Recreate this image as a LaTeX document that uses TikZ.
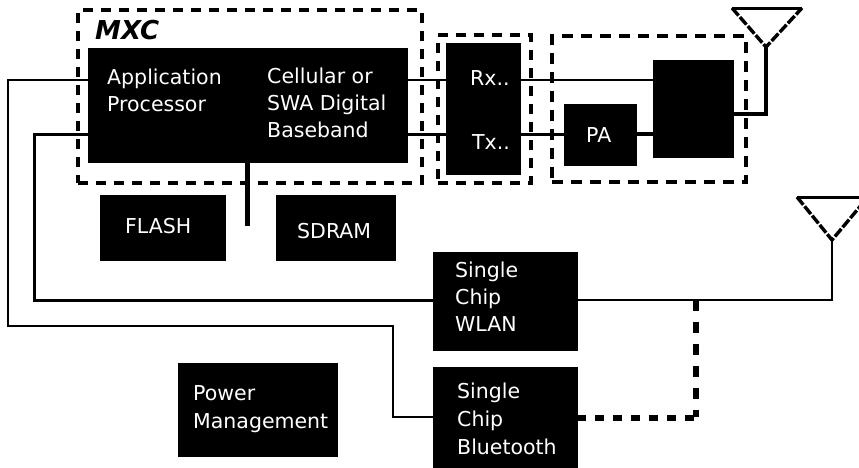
\documentclass[tikz,border=0pt]{standalone}
\usepackage{fontspec}
\setmainfont{DejaVu Sans}
\begin{document}
\begin{tikzpicture}[x=1pt,y=-1pt,
  blk/.style={fill=black,draw=black,inner sep=0pt,line width=0.5pt},
  lbl/.style={text=white,inner sep=0pt,align=left,anchor=north west,font=\fontsize{20.5}{27}\selectfont},
  dbox/.style={draw=black,fill=none,inner sep=0pt,line width=4.4pt,dash pattern=on 10pt off 8pt},
  dboxb/.style={draw=black,fill=none,inner sep=0pt,line width=3.6pt,dash pattern=on 11pt off 8pt},
  thin line/.style={draw=black,line width=2.2pt},
  thick line/.style={draw=black,line width=3pt},
  ant/.style={draw=black,line width=3.4pt,dash pattern=on 10pt off 2pt},
  dline/.style={draw=black,line width=5.5pt,dash pattern=on 11pt off 11pt},
  dotline/.style={draw=black,line width=6pt,dash pattern=on 9pt off 9pt}]
\useasboundingbox (0,0) rectangle (859,467);
\fill[white] (0,0) rectangle (859,467);
% helper levels
\coordinate (rx) at (0,80);
\coordinate (tx) at (0,134);
\coordinate (leftA) at (8,0);
\coordinate (leftB) at (34,0);
\coordinate (busA) at (0,326);
\coordinate (stubEnd) at (247,226);
\coordinate (jog) at (393,0);
\coordinate (a1apex) at (766,47);
\coordinate (a1l) at (732,8);
\coordinate (a1r) at (802,8);
\coordinate (a2apex) at (832,240);
\coordinate (a2l) at (797,197);
\coordinate (a2r) at (868,197);
\coordinate (wjoin) at (696,300);
\coordinate (wcorner) at (696,417);
% dashed groups
\node[dbox,minimum width=344pt,minimum height=173pt,anchor=north west] (mxc) at (76,8) {};
\node[dbox,minimum width=93pt,minimum height=148pt,anchor=north west] (trx) at (436,33) {};
\node[dboxb,minimum width=194pt,minimum height=146pt,anchor=north west] (rf) at (550,34) {};
% connectors
\draw[thin line] (88,80) -- (leftA |- rx) -- (leftA |- busA) -- (jog |- busA) -- (jog |- 0,417) -- (433,417);
\draw[thick line] (88,134) -- (leftB |- tx) -- (leftB |- 0,300) -- (433,300);
\draw[draw=black,line width=5pt] (247,162) -- (stubEnd);
\draw[thin line] (407,80) -- (446,80);
\draw[thick line] (407,134) -- (446,134);
\draw[thin line] (520,80) -- (653,80);
\draw[thick line] (520,134) -- (564,134);
\draw[thick line,line width=4pt] (636,134) -- (653,134);
\draw[thick line,line width=4.4pt] (733,114) -- (a1apex |- 0,114) -- (a1apex);
\draw[thin line] (577,300) -- (a2apex |- 0,300) -- (a2apex);
\draw[dline] (wjoin) -- (wcorner);
\draw[dotline] (577,418) -- (700,418);
% antennas
\draw[black,line width=3pt] (a1l) -- (a1r);
\draw[ant] (a1l) -- (a1apex) -- (a1r);
\draw[black,line width=3pt] (a2l) -- (a2r);
\draw[ant] (a2l) -- (a2apex) -- (a2r);
% blocks
\node[blk,minimum width=319pt,minimum height=114pt,anchor=north west] (main) at (88,48) {};
\node[blk,minimum width=74pt,minimum height=131pt,anchor=north west] (trxb) at (446,43) {};
\node[blk,minimum width=72pt,minimum height=61pt,anchor=north west] (pa) at (564,104) {};
\node[blk,minimum width=80pt,minimum height=97pt,anchor=north west] (dup) at (653,60) {};
\node[blk,minimum width=125pt,minimum height=65pt,anchor=north west] (flash) at (100,195) {};
\node[blk,minimum width=119pt,minimum height=65pt,anchor=north west] (sdram) at (276,195) {};
\node[blk,minimum width=144pt,minimum height=98pt,anchor=north west] (wlan) at (433,252) {};
\node[blk,minimum width=144pt,minimum height=100pt,anchor=north west] (bt) at (433,367) {};
\node[blk,minimum width=159pt,minimum height=93pt,anchor=north west] (pm) at (178,363) {};
% labels
\node[anchor=base west,inner sep=0pt,font=\fontsize{26}{26}\selectfont\bfseries\itshape] (mxct) at (95,39) {MXC};
\node[lbl] (app) at (107,69) {Application\\Processor};
\node[lbl] (cell) at (267,68) {Cellular or\\SWA Digital\\Baseband};
\node[lbl] (rxt) at (470,70) {Rx..};
\node[lbl] (txt) at (472,134) {Tx..};
\node[lbl] (pat) at (586,127) {PA};
\node[lbl] (fl) at (125,218) {FLASH};
\node[lbl] (sd) at (297,223) {SDRAM};
\node[lbl] (w) at (455,262) {Single\\Chip\\WLAN};
\node[lbl,font=\fontsize{20.5}{28}\selectfont] (b) at (457,383) {Single\\Chip\\Bluetooth};
\node[lbl,font=\fontsize{20.5}{28}\selectfont] (p) at (193,385) {Power\\Management};
\end{tikzpicture}
\end{document}
